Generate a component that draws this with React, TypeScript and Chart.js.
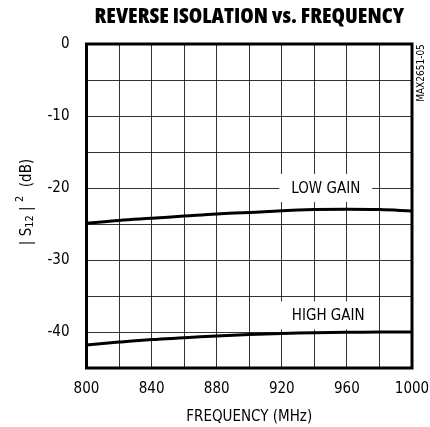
import React, { useEffect, useRef } from "react";
import { Chart, registerables } from "chart.js";

Chart.register(...registerables);

const frequencies = [800, 820, 840, 860, 880, 900, 920, 940, 960, 980, 1000];
const lowGain = [-24.9, -24.5, -24.2, -23.9, -23.6, -23.4, -23.15, -23.0, -22.95, -23.0, -23.2];
const highGain = [-41.8, -41.4, -41.05, -40.8, -40.55, -40.35, -40.2, -40.1, -40.05, -40.0, -40.0];
const seriesNames = ["LOW GAIN", "HIGH GAIN"];
const xTickLabels = [800, 840, 880, 920, 960, 1000];
const yTickLabels = [0, -10, -20, -30, -40];
const chartTitle = "REVERSE ISOLATION vs. FREQUENCY";
const xTitle = "FREQUENCY (MHz)";
const figureCode = "MAX2651-05";

const FONT = '"DejaVu Sans Condensed", "DejaVu Sans", sans-serif';
const TITLE_FONT = '800 condensed 21.7px "Open Sans", "DejaVu Sans Condensed", sans-serif';

export default function App() {
  const ref = useRef<HTMLCanvasElement>(null);

  useEffect(() => {
    if (!ref.current) return;

    const decor = {
      id: "decor",
      beforeDatasetsDraw(chart: any) {
        const { ctx, scales } = chart;
        const x = scales.x;
        const y = scales.y;
        const labels = [
          { text: seriesNames[0], fx: 947, db: -20 },
          { text: seriesNames[1], fx: 948.5, db: -37.7 },
        ];
        ctx.save();
        ctx.font = `15px ${FONT}`;
        ctx.textAlign = "center";
        ctx.textBaseline = "middle";
        for (const l of labels) {
          const px = x.getPixelForValue(l.fx);
          const py = y.getPixelForValue(l.db);
          const w = ctx.measureText(l.text).width + 24;
          ctx.fillStyle = "#fff";
          ctx.fillRect(px - w / 2, py - 14, w, 28);
          ctx.fillStyle = "#000";
          ctx.fillText(l.text, px, py + 1);
        }
        ctx.restore();
      },
      afterDraw(chart: any) {
        const { ctx, chartArea: a } = chart;
        ctx.save();
        // plot frame
        ctx.lineWidth = 3;
        ctx.strokeStyle = "#000";
        ctx.strokeRect(a.left, a.top, a.right - a.left, a.bottom - a.top);

        const cx = (a.left + a.right) / 2;
        ctx.fillStyle = "#000";
        ctx.textAlign = "center";
        ctx.textBaseline = "middle";
        ctx.font = TITLE_FONT;
        ctx.fillText(chartTitle, cx, 16.5);

        ctx.font = `15px ${FONT}`;
        ctx.fillText(xTitle, cx, 417);

        // figure code
        ctx.save();
        ctx.translate(421.5, 73);
        ctx.rotate(-Math.PI / 2);
        ctx.font = `10px ${FONT}`;
        ctx.fillText(figureCode, 0, 0);
        ctx.restore();

        // y title with subscript / superscript
        ctx.save();
        ctx.translate(26, 202);
        ctx.rotate(-Math.PI / 2);
        ctx.textAlign = "left";
        ctx.textBaseline = "alphabetic";
        const parts = [
          { t: "| ", f: 15, dy: 0 },
          { t: "S", f: 15, dy: 0 },
          { t: "12", f: 11, dy: 2 },
          { t: " | ", f: 15, dy: 0 },
          { t: "2", f: 11, dy: -8 },
          { t: "  (dB)", f: 15, dy: 0 },
        ];
        let total = 0;
        for (const p of parts) {
          ctx.font = `${p.f}px ${FONT}`;
          total += ctx.measureText(p.t).width;
        }
        let px = -total / 2;
        for (const p of parts) {
          ctx.font = `${p.f}px ${FONT}`;
          ctx.fillText(p.t, px, 4.5 + p.dy);
          px += ctx.measureText(p.t).width;
        }
        ctx.restore();
        ctx.restore();
      },
    };

    const chart = new Chart(ref.current, {
      type: "line",
      data: {
        datasets: [
          {
            label: seriesNames[0],
            data: frequencies.map((f, i) => ({ x: f, y: lowGain[i] })),
            borderColor: "#000",
            borderWidth: 3,
            pointRadius: 0,
            tension: 0.4,
            fill: false,
          },
          {
            label: seriesNames[1],
            data: frequencies.map((f, i) => ({ x: f, y: highGain[i] })),
            borderColor: "#000",
            borderWidth: 3,
            pointRadius: 0,
            tension: 0.4,
            fill: false,
          },
        ],
      },
      options: {
        responsive: false,
        animation: false,
        devicePixelRatio: 1,
        layout: { padding: { top: 44, right: 18, left: 0, bottom: 0 } },
        plugins: {
          legend: { display: false },
          title: { display: false },
          tooltip: { enabled: false },
        },
        scales: {
          x: {
            type: "linear",
            min: 800,
            max: 1000,
            afterFit: (s: any) => {
              s.height = 59;
              s.paddingLeft = 0;
              s.paddingRight = 0;
            },
            border: { display: false },
            grid: { color: "rgba(0,0,0,0.8)", lineWidth: 1, drawTicks: false },
            ticks: {
              stepSize: 20,
              autoSkip: false,
              maxRotation: 0,
              padding: 12,
              color: "#000",
              font: { family: FONT, size: 15 },
              callback: (v: any) => (xTickLabels.includes(Number(v)) ? String(v) : ""),
            },
          },
          y: {
            type: "linear",
            min: -45,
            max: 0,
            afterFit: (s: any) => {
              s.width = 86.5;
              s.paddingTop = 0;
              s.paddingBottom = 0;
            },
            border: { display: false },
            grid: { color: "rgba(0,0,0,0.8)", lineWidth: 1, drawTicks: false },
            ticks: {
              stepSize: 5,
              autoSkip: false,
              padding: 17,
              color: "#000",
              font: { family: FONT, size: 15 },
              callback: (v: any) => (yTickLabels.includes(Number(v)) ? String(v) : ""),
            },
          },
        },
      },
      plugins: [decor],
    });

    return () => chart.destroy();
  }, []);

  return (
    <div style={{ position: "fixed", left: 0, top: 0, width: 430, height: 427, background: "#fff" }}>
      <canvas ref={ref} width={430} height={427} style={{ display: "block" }} />
    </div>
  );
}
